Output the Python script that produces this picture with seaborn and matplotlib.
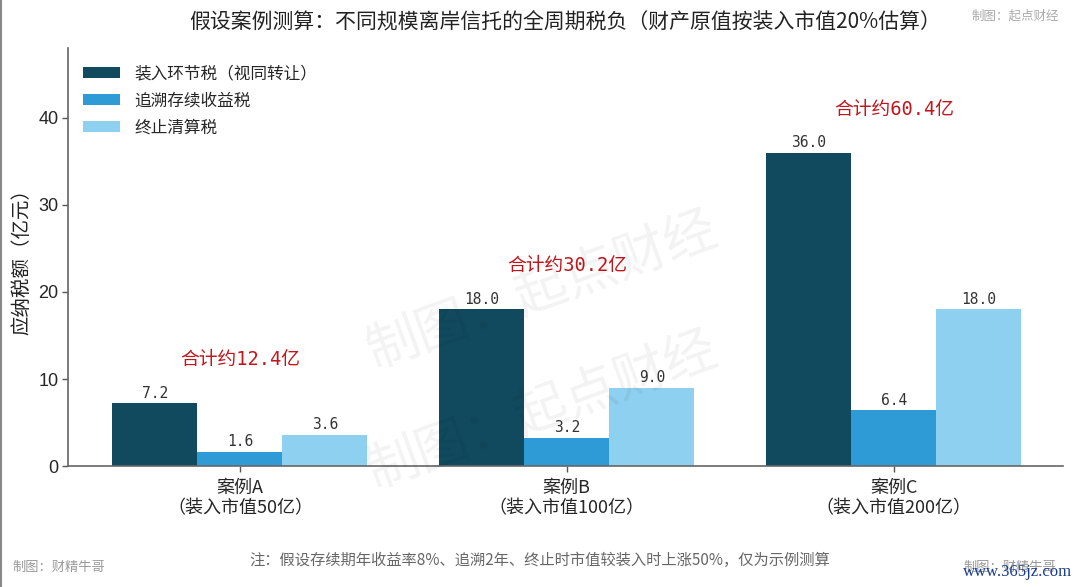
import matplotlib
matplotlib.use("Agg")
import matplotlib.pyplot as plt
import seaborn as sns
import pandas as pd
from matplotlib.lines import Line2D

# ---- data ----
cases = ["案例A\n（装入市值50亿）", "案例B\n（装入市值100亿）", "案例C\n（装入市值200亿）"]
series_names = ["装入环节税（视同转让）", "追溯存续收益税", "终止清算税"]
entry_tax = [7.2, 18.0, 36.0]
trace_tax = [1.6, 3.2, 6.4]
term_tax = [3.6, 9.0, 18.0]
totals = [12.4, 30.2, 60.4]
yticks = [0, 10, 20, 30, 40]

colors = ["#114A5F", "#2E9BD6", "#8ED0EF"]

sns.set_style("white")
plt.rcParams["font.family"] = ["Noto Sans CJK SC", "DejaVu Sans"]

rows = []
for name, vals in zip(series_names, [entry_tax, trace_tax, term_tax]):
    for c, v in zip(cases, vals):
        rows.append({"case": c, "tax": name, "value": v})
df = pd.DataFrame(rows)

fig = plt.figure(figsize=(10.8, 5.87), dpi=100)
ax = fig.add_axes([0.063, 0.206, 0.921, 0.712])

sns.barplot(data=df, x="case", y="value", hue="tax", hue_order=series_names,
            order=cases, palette=colors, saturation=1, width=0.78, ax=ax,
            errorbar=None, linewidth=0)

mono = ["DejaVu Sans Mono", "Noto Sans CJK SC"]
for cont in ax.containers:
    ax.bar_label(cont, fmt="%.1f", padding=2, fontsize=10.5, color="#333333",
                 family=mono)

for i, (t, vals) in enumerate(zip(totals, zip(entry_tax, trace_tax, term_tax))):
    ax.text(i, max(vals) + 5, f"合计约{t:.1f}亿", ha="center", va="center",
            fontsize=13.5, color="#C0161C", family=mono)

ax.set_ylim(0, 48)
ax.set_xlim(-0.526, 2.517)
ax.set_yticks(yticks)
ax.set_yticklabels([str(v) for v in yticks], family=["Liberation Sans", "Noto Sans CJK SC"])
ax.tick_params(axis="y", labelsize=13, length=4, width=1, color="#555555", left=True, pad=3)
ax.tick_params(axis="x", labelsize=13, length=4, width=1, color="#555555", bottom=True, pad=5)
ax.set_xlabel("")
ax.set_ylabel("应纳税额（亿元）", fontsize=14, labelpad=4, color="#222222")
for s in ["top", "right"]:
    ax.spines[s].set_visible(False)
for s in ["left", "bottom"]:
    ax.spines[s].set_color("#666666")
    ax.spines[s].set_linewidth(1.2)

handles, labels = ax.get_legend_handles_labels()
ax.legend(handles, labels, loc="upper left", bbox_to_anchor=(0.0, 0.995),
          frameon=False, fontsize=12, handlelength=2.2, handleheight=0.7,
          labelspacing=0.6, handletextpad=0.9, borderaxespad=0.5)

fig.text(0.523, 0.962, "假设案例测算：不同规模离岸信托的全周期税负（财产原值按装入市值20%估算）",
         ha="center", va="center", fontsize=15, color="#222222")
fig.text(0.94, 0.973, "制图：起点财经", ha="center", va="center", fontsize=9, color="#AAAAAA")
fig.text(0.5, 0.046, "注：假设存续期年收益率8%、追溯2年、终止时市值较装入时上涨50%，仅为示例测算",
         ha="center", va="center", fontsize=11, color="#666666")
fig.text(0.054, 0.034, "制图：财精牛哥", ha="center", va="center", fontsize=9.5, color="#999999")
fig.text(0.935, 0.034, "制图：财精牛哥", ha="center", va="center", fontsize=9.5, color="#999999")
fig.text(0.9425, 0.026, "www.365jz.com", ha="center", va="center", fontsize=12,
         color="#1A3C8C", family=["Liberation Serif", "DejaVu Serif"])

# diagonal watermarks
for yc in [0.505, 0.30]:
    fig.text(0.502, yc, "制图：起点财经", ha="center", va="center", fontsize=38,
             rotation=20, color="#000000", alpha=0.05)

fig.add_artist(Line2D([0.001, 0.001], [0, 1], color="#888888", lw=1.5,
                      transform=fig.transFigure))

fig.savefig("out.png", dpi=100)
